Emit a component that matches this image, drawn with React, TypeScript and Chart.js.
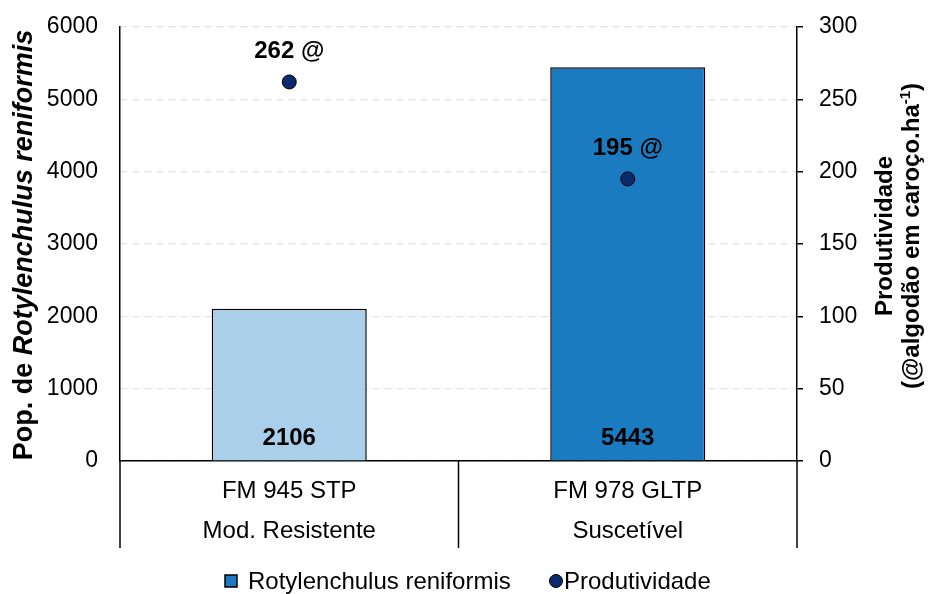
import React, { useEffect, useRef } from "react";
import { Chart, registerables } from "chart.js";

Chart.register(...registerables);

const cultivars = ["FM 945 STP", "FM 978 GLTP"];
const reactions = ["Mod. Resistente", "Suscetível"];
const nematodes = [2106, 5443];
const productivity = [262, 195];
const leftTicks = { min: 0, max: 6000, step: 1000 };
const rightTicks = { min: 0, max: 300, step: 50 };

const FONT = "'Liberation Sans', Arial, sans-serif";
const barColors = ["#a9cfea", "#1b7bc1"];
const pointColor = "#0b2a6b";

const overlayPlugin = {
  id: "overlay",
  afterDraw(chart: any) {
    const ctx = chart.ctx as CanvasRenderingContext2D;
    const area = chart.chartArea;
    const xs = chart.scales.x;
    const ys = chart.scales.y;
    const y1 = chart.scales.y1;
    ctx.save();

    // separators below x axis
    ctx.strokeStyle = "#000";
    ctx.lineWidth = 1.5;
    const sepBottom = area.bottom + 87;
    [area.left, (area.left + area.right) / 2, area.right].forEach((x) => {
      ctx.beginPath();
      ctx.moveTo(x, area.bottom);
      ctx.lineTo(x, sepBottom);
      ctx.stroke();
    });

    // category labels
    ctx.fillStyle = "#000";
    ctx.textAlign = "center";
    ctx.textBaseline = "alphabetic";
    ctx.font = `24px ${FONT}`;
    cultivars.forEach((c, i) => {
      const x = xs.getPixelForValue(i);
      ctx.fillText(c, x, area.bottom + 37);
      ctx.fillText(reactions[i], x, area.bottom + 77);
    });

    // bar value labels
    ctx.font = `bold 24px ${FONT}`;
    nematodes.forEach((v, i) => {
      const x = xs.getPixelForValue(i);
      ctx.fillText(String(v), x, ys.getPixelForValue(0) - 16);
    });

    // point labels
    productivity.forEach((v, i) => {
      const x = xs.getPixelForValue(i);
      ctx.fillText(`${v} @`, x, y1.getPixelForValue(v) - 24);
    });

    // left axis title (mixed style)
    ctx.save();
    ctx.translate(32, (area.top + area.bottom) / 2 + 1);
    ctx.rotate(-Math.PI / 2);
    ctx.textAlign = "left";
    const seg1 = "Pop. de ";
    const seg2 = "Rotylenchulus reniformis";
    ctx.font = `bold 27px ${FONT}`;
    const w1 = ctx.measureText(seg1).width;
    ctx.font = `italic bold 27px ${FONT}`;
    const w2 = ctx.measureText(seg2).width;
    const sx = -(w1 + w2) / 2;
    ctx.font = `bold 27px ${FONT}`;
    ctx.fillText(seg1, sx, 0);
    ctx.font = `italic bold 27px ${FONT}`;
    ctx.fillText(seg2, sx + w1, 0);
    ctx.restore();

    // right axis title
    ctx.save();
    ctx.translate(0, 236);
    ctx.rotate(-Math.PI / 2);
    ctx.textAlign = "left";
    ctx.font = `bold 24px ${FONT}`;
    const l1 = "Produtividade";
    const lw1 = ctx.measureText(l1).width;
    ctx.fillText(l1, -lw1 / 2, 892);
    const a = "(@algodão em caroço.ha";
    const sup = "-1";
    const b = ")";
    const wa = ctx.measureText(a).width;
    const wb = ctx.measureText(b).width;
    ctx.font = `bold 15px ${FONT}`;
    const ws = ctx.measureText(sup).width;
    const total = wa + ws + wb;
    const px = -total / 2;
    ctx.font = `bold 24px ${FONT}`;
    ctx.fillText(a, px, 919);
    ctx.font = `bold 15px ${FONT}`;
    ctx.fillText(sup, px + wa, 919 - 9);
    ctx.font = `bold 24px ${FONT}`;
    ctx.fillText(b, px + wa + ws, 919);
    ctx.restore();

    // legend
    const ly = 581;
    ctx.font = `24px ${FONT}`;
    ctx.textAlign = "left";
    ctx.textBaseline = "middle";
    ctx.fillStyle = barColors[1];
    ctx.fillRect(225, ly - 6, 12, 12);
    ctx.strokeStyle = "#000";
    ctx.lineWidth = 1.5;
    ctx.strokeRect(225, ly - 6, 12, 12);
    ctx.fillStyle = "#000";
    ctx.fillText("Rotylenchulus reniformis", 248, ly + 1);
    ctx.beginPath();
    ctx.arc(556, ly, 6.5, 0, Math.PI * 2);
    ctx.fillStyle = pointColor;
    ctx.fill();
    ctx.lineWidth = 1;
    ctx.stroke();
    ctx.fillStyle = "#000";
    ctx.fillText("Produtividade", 564, ly + 1);

    ctx.restore();
  },
};

export default function App() {
  const ref = useRef<HTMLCanvasElement>(null);
  useEffect(() => {
    if (!ref.current) return;
    const chart = new Chart(ref.current, {
      type: "bar",
      data: {
        labels: cultivars,
        datasets: [
          {
            type: "bar",
            label: "Rotylenchulus reniformis",
            data: nematodes,
            yAxisID: "y",
            backgroundColor: barColors,
            borderColor: "#000",
            borderWidth: 1.5,
            barPercentage: 0.458,
            categoryPercentage: 1,
            order: 2,
          },
          {
            type: "line",
            label: "Produtividade",
            data: productivity,
            yAxisID: "y1",
            showLine: false,
            pointRadius: 7,
            pointBackgroundColor: pointColor,
            pointBorderColor: "#000",
            pointBorderWidth: 1,
            order: 1,
          } as any,
        ],
      },
      options: {
        animation: false,
        responsive: false,
        layout: { padding: { top: 27, left: 0, right: 0, bottom: 0 } },
        plugins: { legend: { display: false }, tooltip: { enabled: false } },
        scales: {
          x: {
            grid: { display: false },
            ticks: { display: false },
            border: { display: true, color: "#000", width: 1.5 },
            afterFit: (s: any) => {
              s.height = 133;
              s.paddingLeft = 0;
              s.paddingRight = 0;
            },
          },
          y: {
            position: "left",
            min: leftTicks.min,
            max: leftTicks.max,
            ticks: {
              stepSize: leftTicks.step,
              color: "#000",
              font: { family: FONT, size: 23 },
              padding: 22,
              callback: (v: any) => String(v),
            },
            grid: { color: "#e3e3e3", lineWidth: 1.2, drawTicks: false },
            border: { display: true, color: "#000", width: 1.5, dash: [7, 5] },
            afterFit: (s: any) => {
              s.width = 120;
              s.paddingTop = 0;
              s.paddingBottom = 0;
            },
          },
          y1: {
            position: "right",
            min: rightTicks.min,
            max: rightTicks.max,
            ticks: {
              stepSize: rightTicks.step,
              color: "#000",
              font: { family: FONT, size: 23 },
              padding: 16,
              callback: (v: any) => String(v),
            },
            grid: { drawOnChartArea: false, drawTicks: true, tickLength: 6, color: "#000", lineWidth: 1.5 },
            border: { display: true, color: "#000", width: 1.5 },
            afterFit: (s: any) => {
              s.width = 131;
              s.paddingTop = 0;
              s.paddingBottom = 0;
            },
          },
        },
      },
      plugins: [overlayPlugin],
    });
    return () => chart.destroy();
  }, []);
  return (
    <div style={{ position: "absolute", left: 0, top: 0, width: 928, height: 594, background: "#fff" }}>
      <canvas ref={ref} width={928} height={594} />
    </div>
  );
}
